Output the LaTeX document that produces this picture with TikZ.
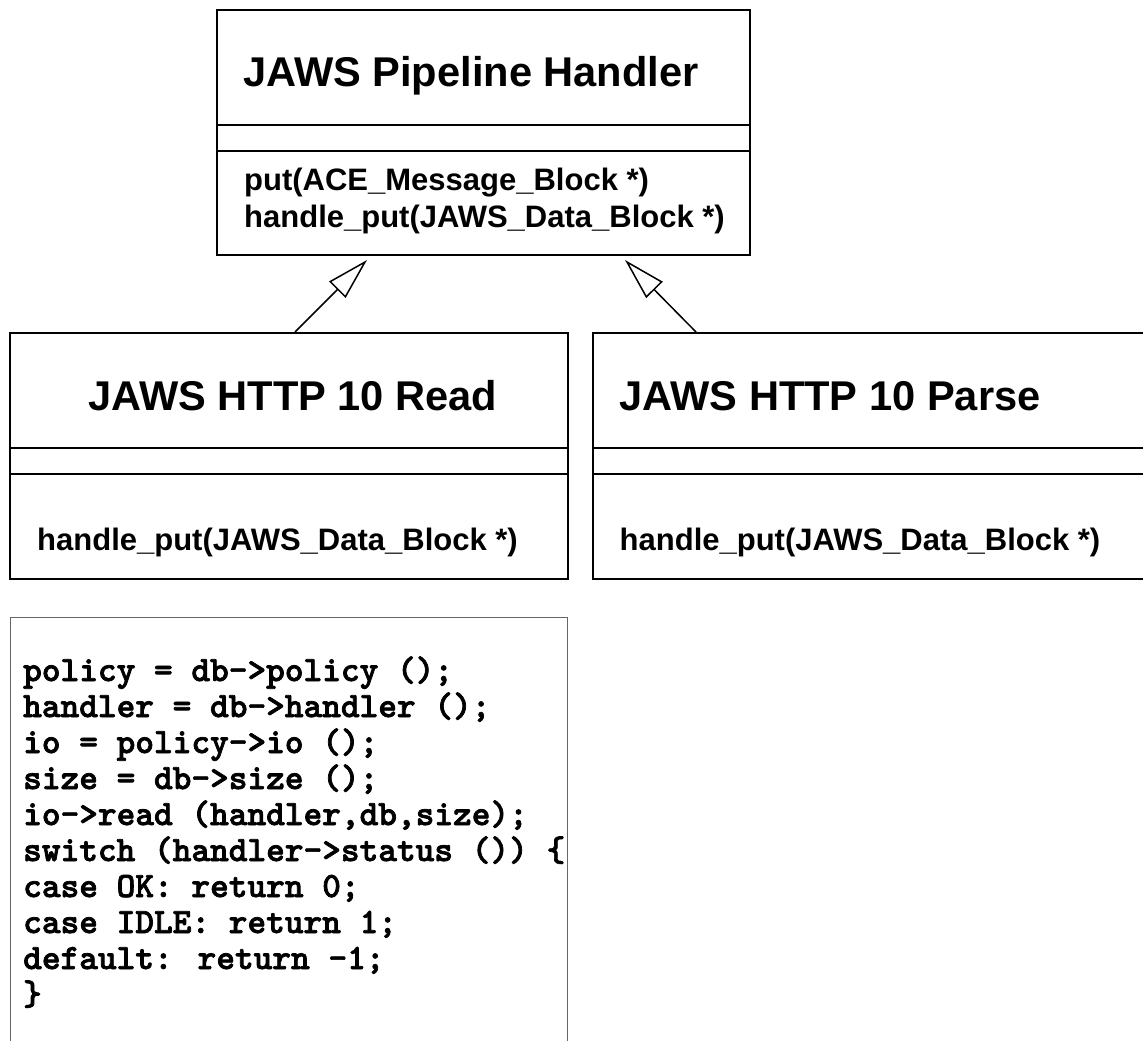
\documentclass[tikz,border=0pt]{standalone}
\usepackage{fontspec}
\setmainfont{Liberation Sans}
\newfontfamily\codefont{lmmonolt10-bold.otf}[FakeBold=2]
\usetikzlibrary{arrows.meta}
\begin{document}
\begin{tikzpicture}[x=1pt,y=-1pt,
  classbox/.style={draw, line width=2.2pt, inner sep=0pt, anchor=north west},
  rule/.style={line width=2.2pt},
  titletext/.style={font=\bfseries\fontsize{41.6}{49}\selectfont, anchor=base west, inner sep=0pt},
  methodtext/.style={font=\bfseries\fontsize{31}{37}\selectfont, anchor=base west, inner sep=0pt},
  codebox/.style={draw=black!60, line width=1.2pt, inner sep=0pt, anchor=north west},
  codeline/.style={font=\codefont\fontsize{35.6}{36}\selectfont, anchor=base west, inner sep=0pt},
  gen/.style={line width=1.5pt, -{Triangle[open, length=42pt, width=23pt, line width=1.5pt]}}]
\useasboundingbox (0,0) rectangle (1143,1041);
\clip (0,0) rectangle (1143,1041);

% base class
\node[classbox, minimum width=533pt, minimum height=245pt] (hdl) at (216,9) {};
\draw[rule] ([yshift=-116pt]hdl.north west) -- ([yshift=-116pt]hdl.north east);
\draw[rule] ([yshift=-142pt]hdl.north west) -- ([yshift=-142pt]hdl.north east);
\node[titletext] (hdltitle) at (243,86) {JAWS Pipeline Handler};
\node[methodtext] (hdlput) at (244,190) {put(ACE\_Message\_Block *)};
\node[methodtext] (hdlhput) at (244,227) {handle\_put(JAWS\_Data\_Block *)};

% reader
\node[classbox, minimum width=558pt, minimum height=246pt] (rd) at (9,332) {};
\draw[rule] ([yshift=-116pt]rd.north west) -- ([yshift=-116pt]rd.north east);
\draw[rule] ([yshift=-142pt]rd.north west) -- ([yshift=-142pt]rd.north east);
\node[titletext] (rdtitle) at (88,410) {JAWS HTTP 10 Read};
\node[methodtext] (rdhput) at (37,550) {handle\_put(JAWS\_Data\_Block *)};

% parser
\node[classbox, minimum width=600pt, minimum height=246pt] (ps) at (592,332) {};
\draw[rule] ([yshift=-116pt]ps.north west) -- ([yshift=-116pt]ps.north east);
\draw[rule] ([yshift=-142pt]ps.north west) -- ([yshift=-142pt]ps.north east);
\node[titletext] (pstitle) at (619.5,410) {JAWS HTTP 10 Parse};
\node[methodtext] (pshput) at (619.5,550) {handle\_put(JAWS\_Data\_Block *)};

% generalisation arrows
\coordinate (rdfoot) at (295,332);
\coordinate (rdtip) at (367,260);
\coordinate (psfoot) at (696,332);
\coordinate (pstip) at (625,260);
\draw[gen] (rdfoot) -- (rdtip);
\draw[gen] (psfoot) -- (pstip);

% code note for handle_put of the reader
\node[codebox, minimum width=557pt, minimum height=500pt] (note) at (9.6,617) {};
\node[codeline] (c1) at (23,681) {policy = db->policy ();};
\node[codeline] (c2) at (23,717) {handler = db->handler ();};
\node[codeline] (c3) at (23,753) {io = policy->io ();};
\node[codeline] (c4) at (23,789) {size = db->size ();};
\node[codeline] (c5) at (23,825) {io->read (handler,db,size);};
\node[codeline] (c6) at (23,861) {switch (handler->status ()) \{};
\node[codeline] (c7) at (23,897) {case OK: return 0;};
\node[codeline] (c8) at (23,933) {case IDLE: return 1;};
\node[codeline] (c9) at (23,969) {default: return -1;};
\node[codeline] (c10) at (23,1005) {\}};
\end{tikzpicture}
\end{document}
